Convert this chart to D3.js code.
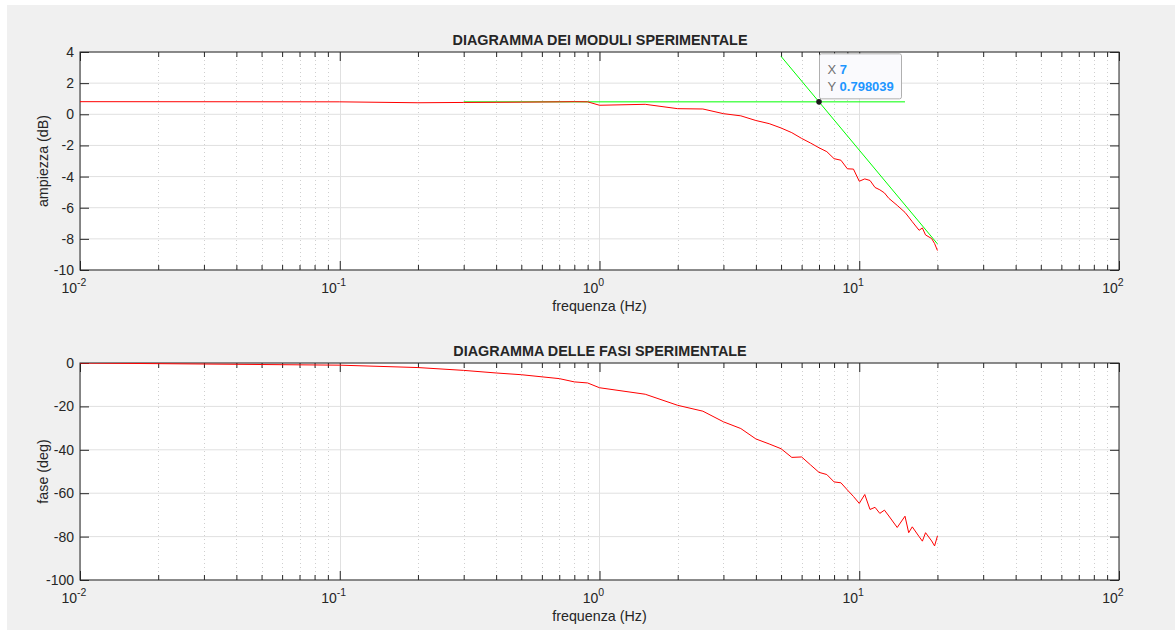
<!DOCTYPE html>
<html>
<head>
<meta charset="utf-8">
<title>Diagrammi sperimentali</title>
<script src="https://d3js.org/d3.v7.min.js"></script>
<style>
body { margin: 0; background: #fff; font-family: "Liberation Sans", Arial, Helvetica, sans-serif; }
svg text { fill: #262626; }
</style>
</head>
<body>
<svg id="fig" width="1175" height="632"></svg>
<script>
// measured frequencies (Hz)
var freq = [0.01, 0.1, 0.2, 0.3, 0.4, 0.5, 0.7, 0.8, 0.9, 1, 1.5, 2, 2.5, 3, 3.5, 4, 4.5, 5, 5.5, 6, 6.5, 7, 7.5,
            8, 8.5, 9, 9.5, 10, 10.5, 11, 11.5, 12, 12.5, 13, 14, 15, 15.5, 16, 17, 17.5, 18, 19, 19.5, 20];
// ampiezza (dB)
var modulo = [0.81, 0.80, 0.74, 0.76, 0.77, 0.78, 0.80, 0.81, 0.80, 0.58, 0.64, 0.36, 0.34, 0.04, -0.10, -0.40, -0.60,
              -0.88, -1.18, -1.55, -1.85, -2.15, -2.40, -2.85, -2.95, -3.50, -3.52, -4.30, -4.15, -4.25, -4.70, -4.85,
              -5.05, -5.40, -5.85, -6.30, -6.60, -6.90, -7.45, -7.30, -7.75, -7.98, -8.30, -8.75];
// fase (deg)
var fase = [0, -1.0, -2.1, -3.4, -4.6, -5.4, -7.2, -8.7, -9.2, -11.4, -14.4, -19.5, -22.2, -27.1, -30.2, -35.0, -37.3,
            -39.5, -43.5, -43.3, -47.0, -50.4, -51.4, -54.8, -55.2, -58.5, -61.5, -64.7, -60.6, -67.5, -66.5, -69.3,
            -67.8, -70.5, -75.8, -70.6, -78.2, -75.5, -80.0, -82.1, -78.2, -82.0, -84.3, -79.7];

// asintoti (green lines) and data tip
var asintotoPiatto = { f: [0.3, 15], db: [0.798039, 0.798039] };
var asintotoPend = { f: [5, 20], db: [3.72, -8.32] };
var datatip = { x: 7, y: 0.798039 };

var decadi = [0.01, 0.1, 1, 10, 100];
var espo = ["-2", "-1", "0", "1", "2"];
var yTicksMod = [4, 2, 0, -2, -4, -6, -8, -10];
var yTicksFase = [0, -20, -40, -60, -80, -100];

var svg = d3.select("#fig");
svg.append("rect").attr("x", 7).attr("y", 5).attr("width", 1168).attr("height", 625).attr("fill", "#f0f0f0");

var left = 80, right = 1119;
var x = d3.scaleLog().domain([0.01, 100]).range([left, right]);

// minor ticks 2..9 for every decade
var minori = [];
decadi.slice(0, 4).forEach(function (d) {
    for (var k = 2; k <= 9; k++) minori.push(d * k);
});

function pannello(top, bottom, yDomain, yTicks, titolo, ylabel, id) {
    var y = d3.scaleLinear().domain(yDomain).range([bottom, top]);
    var g = svg.append("g");

    g.append("rect").attr("x", left).attr("y", top).attr("width", right - left).attr("height", bottom - top)
        .attr("fill", "#fff");

    g.append("clipPath").attr("id", id).append("rect")
        .attr("x", left).attr("y", top).attr("width", right - left).attr("height", bottom - top);

    // grid
    g.selectAll(".gminor").data(minori).enter().append("line")
        .attr("x1", function (d) { return Math.round(x(d)) + 0.5; }).attr("x2", function (d) { return Math.round(x(d)) + 0.5; })
        .attr("y1", top).attr("y2", bottom)
        .attr("stroke", "#cfcfcf").attr("stroke-width", 1).attr("stroke-dasharray", "1,3");
    g.selectAll(".gx").data(decadi).enter().append("line")
        .attr("x1", function (d) { return Math.round(x(d)) + 0.5; }).attr("x2", function (d) { return Math.round(x(d)) + 0.5; })
        .attr("y1", top).attr("y2", bottom)
        .attr("stroke", "#e0e0e0").attr("stroke-width", 1);
    g.selectAll(".gy").data(yTicks).enter().append("line")
        .attr("x1", left).attr("x2", right)
        .attr("y1", function (d) { return y(d); }).attr("y2", function (d) { return y(d); })
        .attr("stroke", "#e0e0e0").attr("stroke-width", 1);

    // inside ticks on all four sides (MATLAB box style)
    var axCol = "#262626";
    [[d3.axisBottom(x), bottom, -9, -5], [d3.axisTop(x), top, -9, -5]].forEach(function (a) {
        var ag = g.append("g").attr("transform", "translate(0," + a[1] + ")");
        ag.call(a[0].tickValues(decadi).tickSize(a[2]).tickFormat(""));
        ag.append("g").call(a[0].tickValues(minori).tickSize(a[3]).tickFormat(""));
        ag.selectAll("path").remove();
        ag.selectAll("line").attr("stroke", axCol);
    });
    [[d3.axisLeft(y), left], [d3.axisRight(y), right]].forEach(function (a) {
        var ag = g.append("g").attr("transform", "translate(" + a[1] + ",0)");
        ag.call(a[0].tickValues(yTicks).tickSize(-9).tickFormat(""));
        ag.selectAll("path").remove();
        ag.selectAll("line").attr("stroke", axCol);
    });

    g.append("rect").attr("x", left).attr("y", top).attr("width", right - left).attr("height", bottom - top)
        .attr("fill", "none").attr("stroke", axCol).attr("stroke-width", 1);

    // tick labels
    g.selectAll(".ly").data(yTicks).enter().append("text")
        .attr("x", left - 6).attr("y", function (d) { return y(d) + 5; })
        .attr("text-anchor", "end").attr("font-size", 14)
        .text(function (d) { return d; });

    var lx = g.selectAll(".lx").data(decadi).enter().append("text")
        .attr("x", function (d) { return x(d) - 6; }).attr("y", bottom + 23)
        .attr("text-anchor", "middle").attr("font-size", 14);
    lx.append("tspan").text("10");
    lx.append("tspan").attr("dy", -7).attr("font-size", 10.5).text(function (d, i) { return espo[i]; });

    g.append("text").attr("x", (left + right) / 2).attr("y", bottom + 41)
        .attr("text-anchor", "middle").attr("font-size", 14.3).text("frequenza (Hz)");
    g.append("text").attr("x", 600).attr("y", top - 7)
        .attr("text-anchor", "middle").attr("font-size", 14.4).attr("font-weight", "bold").text(titolo);
    g.append("text").attr("transform", "translate(48," + ((top + bottom) / 2) + ") rotate(-90)")
        .attr("text-anchor", "middle").attr("font-size", 14.3).text(ylabel);

    var plot = g.append("g").attr("clip-path", "url(#" + id + ")");
    return { y: y, plot: plot };
}

var sup = pannello(52, 270, [-10, 4], yTicksMod, "DIAGRAMMA DEI MODULI SPERIMENTALE", "ampiezza (dB)", "clipMod");
var inf = pannello(363, 580, [-100, 0], yTicksFase, "DIAGRAMMA DELLE FASI SPERIMENTALE", "fase (deg)", "clipFase");

function linea(xs, ys, y) {
    return d3.line().x(function (d, i) { return x(xs[i]); }).y(function (d) { return y(d); })(ys);
}

sup.plot.append("path").attr("d", linea(asintotoPiatto.f, asintotoPiatto.db, sup.y))
    .attr("fill", "none").attr("stroke", "#00ff00").attr("stroke-width", 1);
sup.plot.append("path").attr("d", linea(asintotoPend.f, asintotoPend.db, sup.y))
    .attr("fill", "none").attr("stroke", "#00ff00").attr("stroke-width", 1);
sup.plot.append("path").attr("d", linea(freq, modulo, sup.y))
    .attr("fill", "none").attr("stroke", "#ff0000").attr("stroke-width", 1);
inf.plot.append("path").attr("d", linea(freq, fase, inf.y))
    .attr("fill", "none").attr("stroke", "#ff0000").attr("stroke-width", 1);

// data tip
var px = x(datatip.x), py = sup.y(datatip.y);
svg.append("circle").attr("cx", px).attr("cy", py).attr("r", 2.8).attr("fill", "#1a1a1a");
var tip = svg.append("g").attr("transform", "translate(" + (px + 0.5) + "," + (py - 48) + ")");
tip.append("rect").attr("width", 82).attr("height", 45).attr("rx", 2)
    .attr("fill", "#fafafd").attr("stroke", "#b0b0b0").attr("stroke-width", 1);
var t1 = tip.append("text").attr("x", 8).attr("y", 20).attr("font-size", 13);
t1.append("tspan").style("fill", "#707070").text("X ");
t1.append("tspan").style("fill", "#1e96ff").attr("font-weight", "bold").text(datatip.x);
var t2 = tip.append("text").attr("x", 8).attr("y", 37).attr("font-size", 13);
t2.append("tspan").style("fill", "#707070").text("Y ");
t2.append("tspan").style("fill", "#1e96ff").attr("font-weight", "bold").text(datatip.y);
</script>
</body>
</html>
